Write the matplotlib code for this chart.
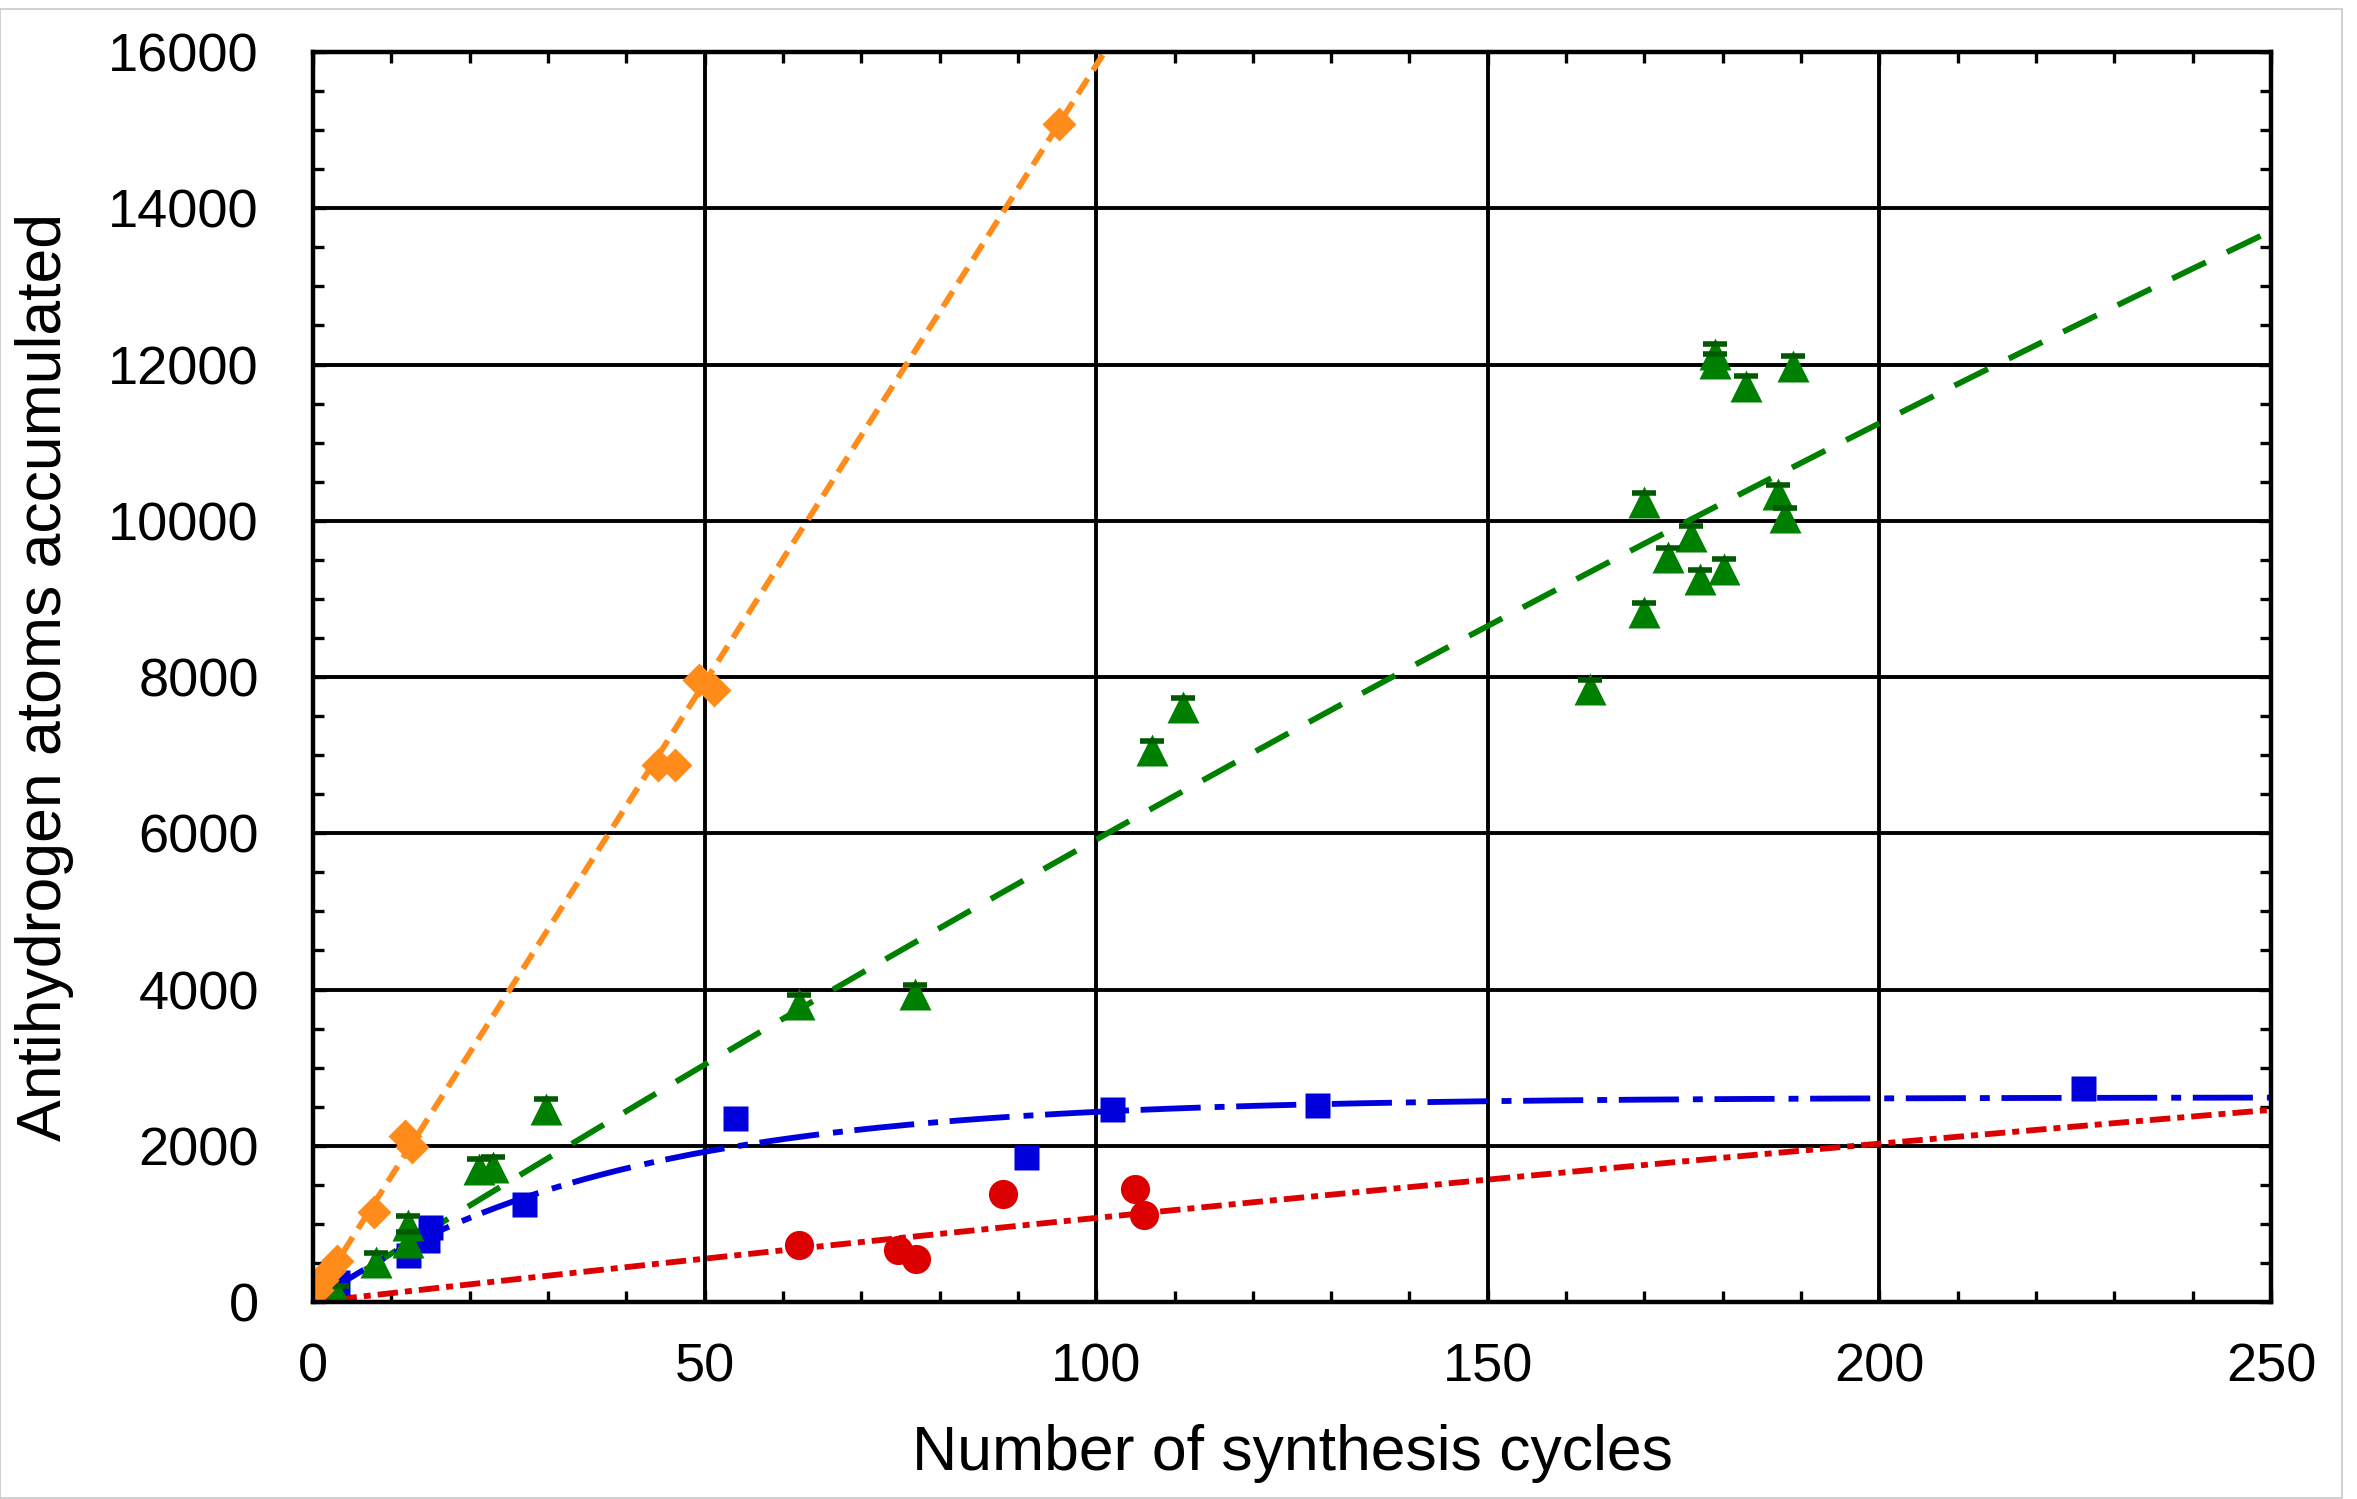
import numpy as np
import matplotlib
matplotlib.use("Agg")
import matplotlib.pyplot as plt
from matplotlib.ticker import MultipleLocator
from matplotlib.patches import Rectangle

plt.rcParams['font.family'] = ['Liberation Sans', 'DejaVu Sans']

# dati: numero di cicli vs atomi di antiidrogeno accumulati
x_orange = [0.5, 1.2, 2.0, 3.0, 7.8, 11.8, 12.6, 44.1, 46.2, 49.3, 51.2, 95.2]
y_orange = [150, 280, 400, 530, 1150, 2120, 1990, 6870, 6870, 7960, 7830, 15077]

x_green = [0.3, 3.1, 8.1, 12.1, 12.1, 21.2, 23.0, 29.8, 62.0, 76.9, 107.1, 111.1,
           163.0, 170.0, 170.0, 173.0, 176.0, 177.1, 180.1, 179.0, 179.0, 183.0,
           189.0, 187.1, 187.9]
y_green = [20, 90, 513, 985, 770, 1708, 1730, 2475, 3810, 3940, 7060, 7615,
           7845, 8830, 10235, 9530, 9810, 9255, 9385, 12140, 12015, 11730,
           11985, 10340, 10045]
err_green = 120

x_blue = [3.0, 12.1, 14.6, 15.0, 27.0, 53.9, 91.1, 102.0, 128.2, 226.0]
y_blue = [250, 600, 800, 960, 1260, 2350, 1855, 2475, 2520, 2740]

x_red = [3.0, 62.1, 74.7, 77.0, 88.1, 104.9, 106.1]
y_red = [10, 727, 663, 557, 1388, 1452, 1110]

# parametri dei fit
m_orange, c_orange = 158.0, 30.0
A_green, tau_green = 59250.0, 950.0
A_blue, tau_blue = 2620.0, 37.8
A_red, tau_red = 9165.0, 800.0

c_or = '#ff8c1a'
c_gr = '#008000'
c_bl = '#0000dd'
c_rd = '#dd0000'

fig = plt.figure(figsize=(23.57, 14.99), dpi=100)
ax = fig.add_axes([0.1328, 0.1314, 0.9635 - 0.1328, 0.9653 - 0.1314])

fig.patches.append(Rectangle((0.0, 0.0007), 0.9936, 0.9933, transform=fig.transFigure,
                             fill=False, edgecolor='#c8c8c8', linewidth=1.2))

# curve di fit
lw_fit = 4.2
xf = np.linspace(0, 105, 300)
ax.plot(xf, m_orange * xf + c_orange, color=c_or, lw=lw_fit, dashes=(3.1, 1.7), zorder=3)
xf = np.linspace(0, 250, 800)
ax.plot(xf, A_green * (1 - np.exp(-xf / tau_green)), color=c_gr, lw=lw_fit,
        dashes=(6.4, 4.0), zorder=3)
ax.plot(xf, A_blue * (1 - np.exp(-xf / tau_blue)), color=c_bl, lw=lw_fit,
        dashes=(10.3, 2.4, 1.7, 2.0), zorder=3)
xr = np.linspace(3, 250, 800)
ax.plot(xr, A_red * (1 - np.exp(-xr / tau_red)), color=c_rd, lw=lw_fit,
        dashes=(3.5, 1.2, 1.2, 1.2), zorder=3)

# punti sperimentali
ax.plot(x_red, y_red, 'o', color=c_rd, ms=21, mec='none', zorder=4)
ax.plot(x_blue, y_blue, 's', color=c_bl, ms=18, mec='none', zorder=4)
ax.plot(x_green, y_green, '^', color=c_gr, ms=23, mec='none', zorder=5)
ax.plot(x_green, np.array(y_green) + err_green, '_', color='#005a00', ms=17,
        mew=4, zorder=6)
ax.plot(x_orange, y_orange, 'D', color=c_or, ms=17, mec='none', zorder=7)

ax.set_xlim(0, 250)
ax.set_ylim(0, 16000)
ax.xaxis.set_major_locator(MultipleLocator(50))
ax.xaxis.set_minor_locator(MultipleLocator(10))
ax.yaxis.set_major_locator(MultipleLocator(2000))
ax.yaxis.set_minor_locator(MultipleLocator(500))

ax.grid(True, which='major', color='black', lw=2.8, zorder=1)
for s in ax.spines.values():
    s.set_linewidth(3.2)
    s.set_zorder(8)
ax.tick_params(which='both', direction='in', top=True, right=True, width=2.4)
ax.tick_params(which='major', length=9)
ax.tick_params(which='minor', length=8)
ax.tick_params(axis='x', which='major', labelsize=39, pad=29)
ax.tick_params(axis='y', which='major', labelsize=39, pad=39)

ax.set_xlabel("Number of synthesis cycles", fontsize=45, va='center')
ax.xaxis.set_label_coords(0.5, -0.1208)
ax.set_ylabel("Antihydrogen atoms accumulated", fontsize=45, va='center')
ax.yaxis.set_label_coords(-0.1369, 0.5)

fig.savefig("out.png", dpi=100)
